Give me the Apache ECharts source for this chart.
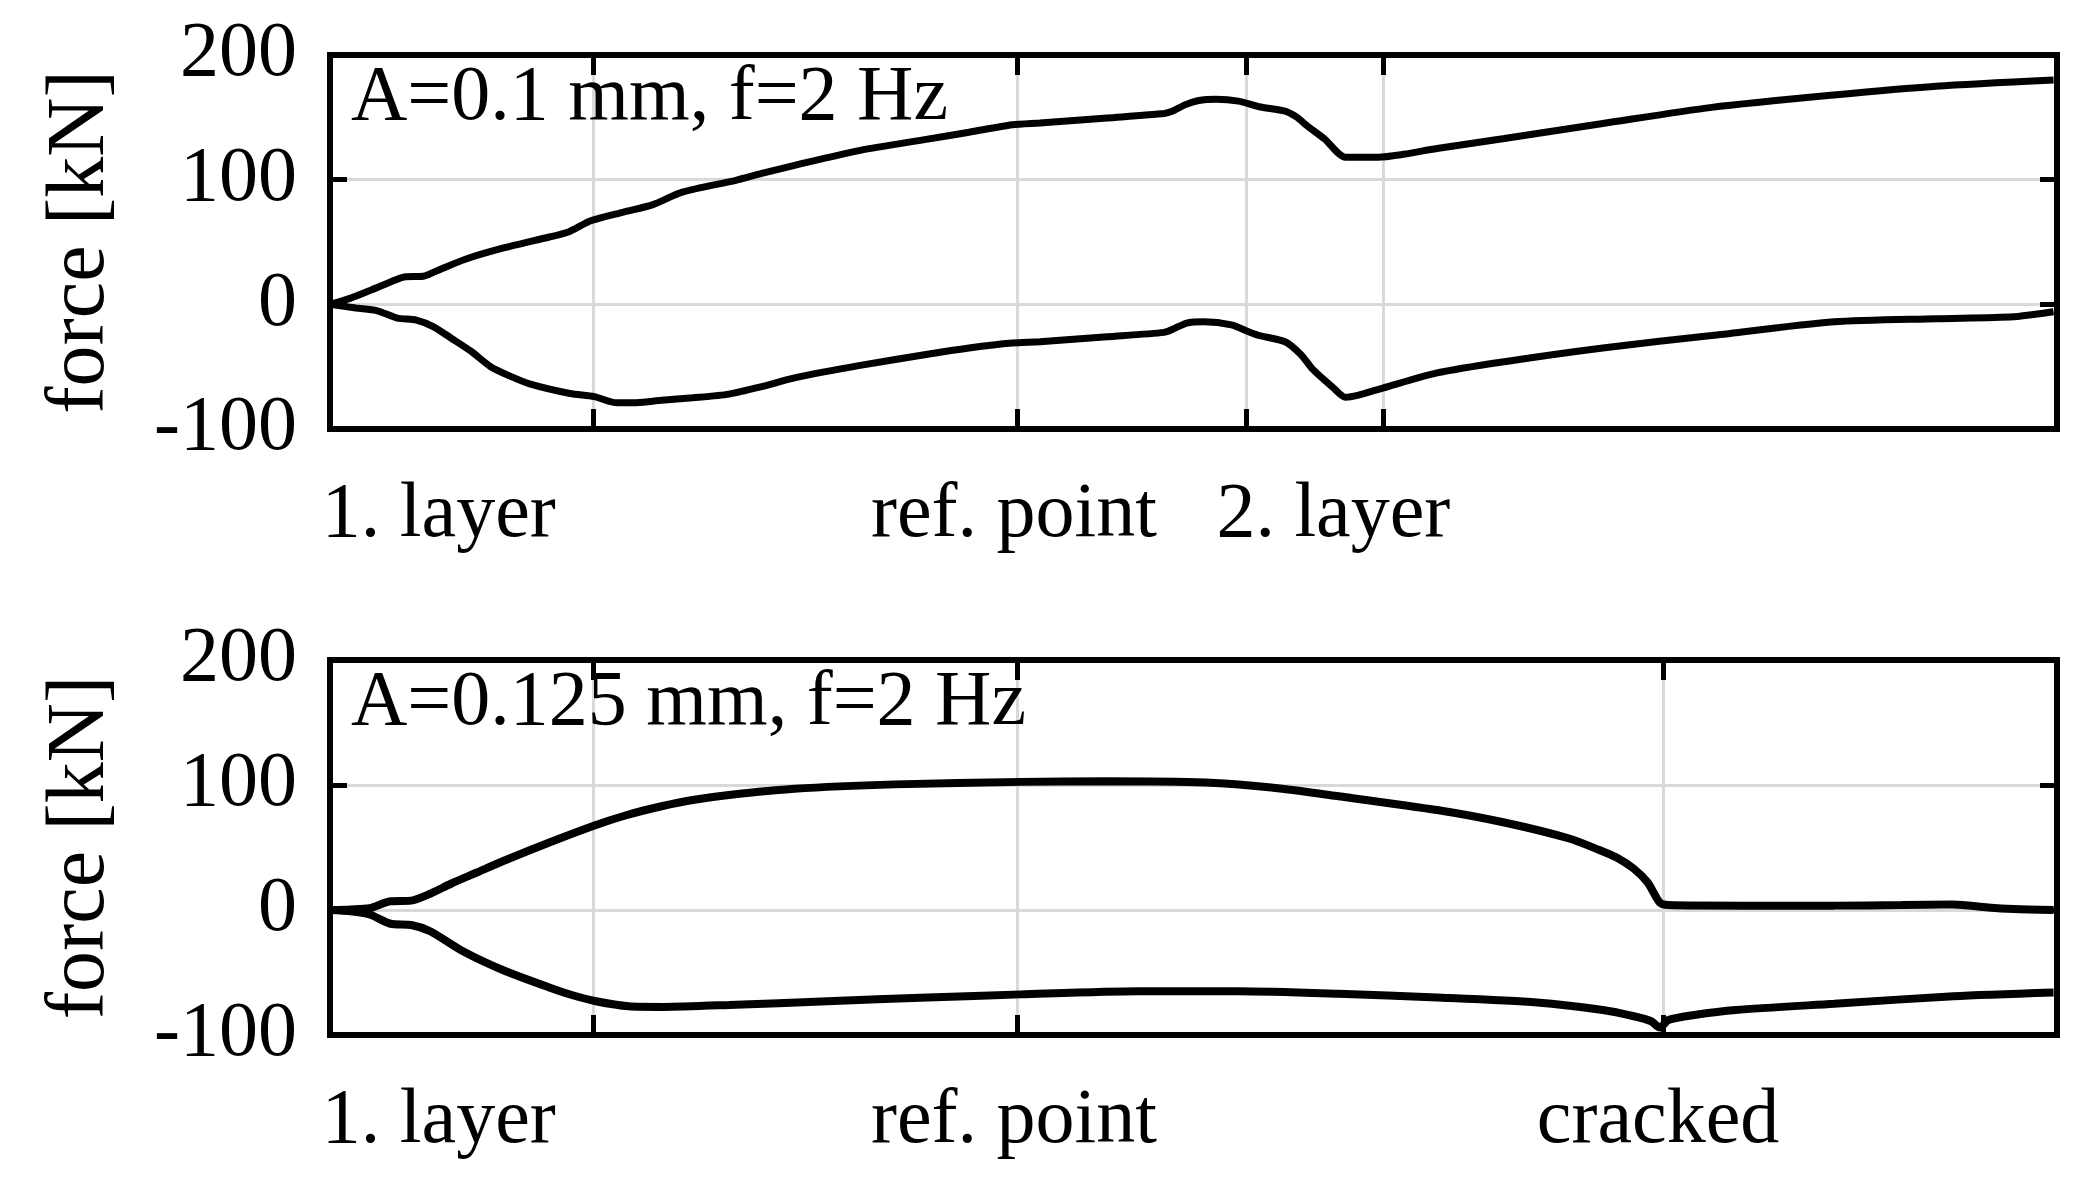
<!DOCTYPE html>
<html><head><meta charset="utf-8">
<script src="https://cdn.jsdelivr.net/npm/echarts@6/dist/echarts.min.js"></script>
<style>html,body{margin:0;padding:0;background:#fff}#c{width:2079px;height:1180px}</style>
</head><body><div id="c"></div>
<script>
// ---- data (x = normalised test progress 0..100, y = force in kN) ----
const yTicks = [-100, 0, 100, 200];
const topGridX = [15.23, 39.78, 53.04, 60.97];
const botGridX = [15.23, 39.78, 77.19];
const topLabelX = [6.3, 39.6, 58.1];
const topLabelText = ['1. layer', 'ref. point', '2. layer'];
const botLabelX = [6.3, 39.6, 76.9];
const botLabelText = ['1. layer', 'ref. point', 'cracked'];
const panelTitles = ['A=0.1 mm, f=2 Hz', 'A=0.125 mm, f=2 Hz'];
const yName = 'force [kN]';

const topUpper = [[0,0],[1.2,5],[2.4,11.6],[3.5,18],[4.3,22],[5.4,22.5],[6.2,27],[7.8,36],[10,45],[12.7,54],[13.8,58],[15.1,67],[17,74],[18.7,80],[20.4,90],[23.5,99.5],[25,105],[26.9,111.5],[30.7,123.5],[34.6,132.5],[37,138],[39.5,144],[41.1,145.5],[45,149.5],[48.3,153],[48.8,155],[49.5,160],[50.3,163.5],[51.3,164.5],[52.6,163],[53.8,158.5],[55.3,155],[56,150],[56.5,144],[57.6,132.5],[58.8,118],[60.7,118],[62,120],[64.1,125],[68,133],[73.7,145],[80,158],[87.1,168],[93,175],[99.8,180]];
const topLower = [[0,0],[1.5,-3],[2.7,-5],[3.9,-11],[5.0,-12.6],[6,-18],[7,-27],[8.2,-38],[9.3,-50],[10.5,-58],[11.6,-64],[13.9,-71.5],[15.3,-74],[16.6,-79],[17.5,-79],[19.2,-77],[21,-75],[23.1,-72],[25,-66],[26.9,-59],[30.7,-49],[34.6,-40],[37,-35],[39.5,-31],[41.1,-30],[45,-26],[48.3,-22.5],[48.8,-20],[49.6,-15],[50.6,-14],[52.2,-16.5],[53.2,-22],[53.8,-25],[55.3,-30],[56.2,-40],[56.9,-52],[58.1,-67],[58.8,-74.5],[59.5,-73],[61,-67],[64.1,-55],[68,-46],[73.7,-35],[80,-25],[87.1,-14],[93,-11.5],[97.5,-10],[99.8,-6]];
const botUpper = [[0,0],[1.2,0.5],[2.3,1.5],[3.5,7],[4.7,7.5],[5.8,13],[7,21],[8.5,30],[10,39],[12.7,54],[15.4,68],[17.2,76],[19.2,83],[21,88],[23.1,92],[26.9,97],[32.7,100.5],[40,102.5],[44.9,103],[50.7,102],[54.5,98],[58.4,91],[64.1,80],[68,70],[71.8,57],[73.5,48],[74.5,42],[75.5,33],[76.3,22],[77,6],[77.5,4],[82,3.5],[87.1,3.5],[91,4],[94,4.5],[96,2],[97.5,0.8],[99.8,0]];
const botLower = [[0,0],[1.2,-1],[2.3,-3.6],[3.5,-11],[4.7,-12],[5.8,-17],[7.7,-33],[10,-48],[12.7,-62],[14,-68],[15.4,-73],[17.3,-77],[19.3,-77.5],[23.1,-76],[28.8,-73],[34.6,-70],[40,-67.5],[46.8,-65],[52.6,-65],[58.4,-67],[64.1,-70],[69.9,-74],[73.7,-80],[75.5,-85],[76.5,-89],[77,-94],[77.5,-88],[79,-84],[81.4,-80],[87.1,-75],[94,-69],[99.8,-66]];

// ---- styling ----
const FONT = 'Liberation Serif';
const FS = 78;
const GRIDC = '#d9d9d9';
const AXL = {show:true, onZero:false, lineStyle:{color:'#000', width:6, cap:'square'}};
const TICK = len => ({show:true, inside:true, length:len, lineStyle:{color:'#000', width:5}});

function xAxes(gi, gridX, labelX, labelText) {
  return [
    { type:'value', gridIndex:gi, position:'bottom', min:0, max:100,
      axisLine:AXL,
      axisTick:Object.assign(TICK(20), {customValues: gridX}),
      splitLine:{show:true, lineStyle:{color:GRIDC, width:3}},
      axisLabel:{show:true, customValues: labelX, margin:48, color:'#000', fontFamily:FONT, fontSize:FS,
        formatter: v => { let b=0,d=1e9; labelX.forEach((x,i)=>{ if(Math.abs(x-v)<d){d=Math.abs(x-v);b=i;} }); return labelText[b]; } } },
    { type:'value', gridIndex:gi, position:'top', min:0, max:100,
      axisLine:AXL,
      axisTick:Object.assign(TICK(20), {customValues: gridX}),
      splitLine:{show:false}, axisLabel:{show:false} }
  ];
}
function yAxes(gi) {
  return [
    { type:'value', gridIndex:gi, position:'left', min:-100, max:200, interval:100,
      name:yName, nameLocation:'middle', nameGap:208, nameRotate:90,
      nameTextStyle:{color:'#000', fontFamily:FONT, fontSize:FS+4},
      axisLine:AXL,
      axisTick:TICK(17),
      splitLine:{show:true, lineStyle:{color:GRIDC, width:3}},
      axisLabel:{show:true, margin:33, color:'#000', fontFamily:FONT, fontSize:FS,
        formatter: v => String(yTicks[yTicks.indexOf(v)])} },
    { type:'value', gridIndex:gi, position:'right', min:-100, max:200, interval:100,
      axisLine:AXL,
      axisTick:TICK(17),
      splitLine:{show:false}, axisLabel:{show:false} }
  ];
}
function line(data, xi, yi, w) {
  return { type:'line', data:data, xAxisIndex:xi, yAxisIndex:yi, showSymbol:false, symbol:'none',
    smooth:0.25, lineStyle:{color:'#000', width:w}, silent:true, animation:false, z:3 };
}

const option = {
  backgroundColor:'#fff',
  animation:false,
  title:[
    { text:panelTitles[0], left:351, top:60, padding:0, textStyle:{color:'#000', fontFamily:FONT, fontSize:FS, fontWeight:'normal'} },
    { text:panelTitles[1], left:351, top:665, padding:0, textStyle:{color:'#000', fontFamily:FONT, fontSize:FS, fontWeight:'normal'} }
  ],
  grid:[
    { left:330, top:55, width:1727, height:374, show:false },
    { left:330, top:660, width:1727, height:375, show:false }
  ],
  xAxis:[...xAxes(0, topGridX, topLabelX, topLabelText), ...xAxes(1, botGridX, botLabelX, botLabelText)],
  yAxis:[...yAxes(0), ...yAxes(1)],
  series:[
    line(topUpper, 0, 0, 7), line(topLower, 0, 0, 7),
    line(botUpper, 2, 2, 8), line(botLower, 2, 2, 8)
  ]
};
const chart = echarts.init(document.getElementById('c'), null, {renderer:'canvas'});
chart.setOption(option);
</script></body></html>
